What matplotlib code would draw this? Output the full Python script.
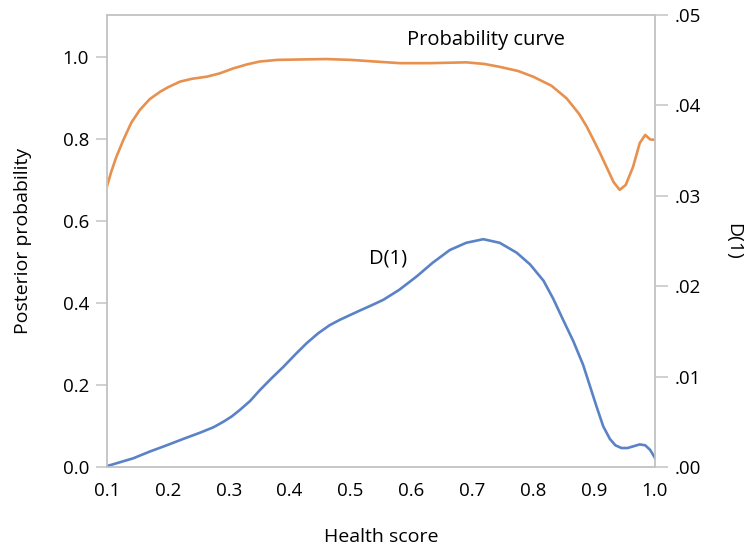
import matplotlib
matplotlib.use("Agg")
import matplotlib.pyplot as plt

# Probability curve (left axis)
x_prob = [0.10, 0.107, 0.115, 0.127, 0.14, 0.154, 0.17, 0.187, 0.20, 0.22,
          0.24, 0.264, 0.285, 0.307, 0.33, 0.351, 0.38, 0.417, 0.46, 0.50,
          0.54, 0.581, 0.63, 0.69, 0.72, 0.745, 0.775, 0.80, 0.83, 0.855,
          0.875, 0.888, 0.899, 0.91, 0.921, 0.932, 0.942, 0.952, 0.964, 0.975,
          0.984, 0.992, 1.0]
prob = [0.685, 0.72, 0.755, 0.798, 0.84, 0.871, 0.897, 0.915, 0.926, 0.940,
        0.947, 0.952, 0.960, 0.972, 0.982, 0.989, 0.993, 0.994, 0.995, 0.993,
        0.989, 0.985, 0.985, 0.987, 0.983, 0.976, 0.966, 0.952, 0.93, 0.899,
        0.862, 0.830, 0.798, 0.765, 0.730, 0.695, 0.676, 0.688, 0.732, 0.790,
        0.810, 0.799, 0.798]

# D(1) (right axis)
x_d = [0.10, 0.12, 0.143, 0.17, 0.198, 0.225, 0.253, 0.275, 0.291, 0.305,
       0.318, 0.335, 0.351, 0.37, 0.39, 0.41, 0.428, 0.447, 0.466, 0.483,
       0.499, 0.515, 0.535, 0.554, 0.58, 0.609, 0.635, 0.663, 0.69, 0.718,
       0.745, 0.773, 0.795, 0.817, 0.833, 0.849, 0.866, 0.882, 0.893, 0.904,
       0.915, 0.926, 0.935, 0.945, 0.955, 0.965, 0.975, 0.984, 0.992, 1.0]
d1 = [0.0001, 0.0005, 0.00096, 0.0017, 0.0024, 0.0031, 0.0038, 0.0044, 0.0050, 0.0056,
      0.0063, 0.0073, 0.0085, 0.0098, 0.0111, 0.0125, 0.0137, 0.0148, 0.0157, 0.0163,
      0.0168, 0.0173, 0.0179, 0.0185, 0.0196, 0.0211, 0.0226, 0.0240, 0.0248, 0.0252,
      0.0248, 0.0237, 0.0224, 0.0206, 0.0186, 0.0163, 0.0139, 0.0113, 0.0090, 0.0067,
      0.0045, 0.0031, 0.0024, 0.0021, 0.0021, 0.0023, 0.0025, 0.0024, 0.0019, 0.0010]

x_ticks = [0.1, 0.2, 0.3, 0.4, 0.5, 0.6, 0.7, 0.8, 0.9, 1.0]
left_ticks = [0.0, 0.2, 0.4, 0.6, 0.8, 1.0]
right_ticks = [0.00, 0.01, 0.02, 0.03, 0.04, 0.05]
right_labels = [".00", ".01", ".02", ".03", ".04", ".05"]

ORANGE = "#E8904E"
BLUE = "#5A82C6"
GRAY = "#C4C4C4"
FS = 13.5

plt.rcParams["font.family"] = ["Open Sans", "DejaVu Sans"]

fig = plt.figure(figsize=(7.55, 5.53), dpi=100)
ax = fig.add_axes([0.1417, 0.1555, 0.7258, 0.8174])
ax2 = ax.twinx()

ax.plot(x_prob, prob, color=ORANGE, lw=1.9, solid_joinstyle="round")
ax2.plot(x_d, d1, color=BLUE, lw=1.9, solid_joinstyle="round")

ax.set_xlim(0.1, 1.0)
ax.set_ylim(0, 1.1025)
ax2.set_ylim(0, 0.05)

ax.set_xticks(x_ticks)
ax.set_xticklabels([f"{v:.1f}" for v in x_ticks])
ax.set_yticks(left_ticks)
ax.set_yticklabels([f"{v:.1f}" for v in left_ticks])
ax2.set_yticks(right_ticks)
ax2.set_yticklabels(right_labels)

for a in (ax, ax2):
    for s in a.spines.values():
        s.set_color(GRAY)
        s.set_linewidth(1.1)
ax.tick_params(axis="x", length=0, pad=11, labelsize=FS)
ax.tick_params(axis="y", length=8, color=GRAY, width=1.1, pad=5, labelsize=FS)
ax2.tick_params(axis="y", length=9, color=GRAY, width=1.1, pad=5, labelsize=FS)

ax.set_xlabel("Health score", fontsize=FS + 0.5, labelpad=20)
ax.set_ylabel("Posterior probability", fontsize=FS + 0.5, labelpad=22)
ax2.set_ylabel("D(1)", fontsize=FS + 0.5, rotation=-90, labelpad=30)

ax.text(0.692, 0.945, "Probability curve", transform=ax.transAxes,
        fontsize=FS + 1, ha="center", va="center")
ax.text(0.513, 0.462, "D(1)", transform=ax.transAxes,
        fontsize=FS + 1, ha="center", va="center")

fig.savefig("out.png", dpi=100)
